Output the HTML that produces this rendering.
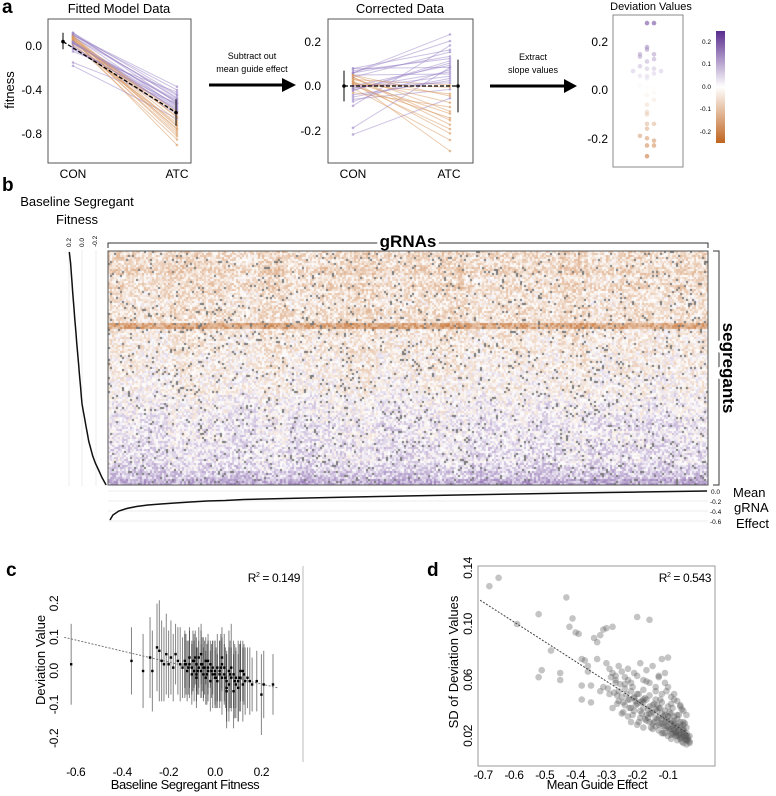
<!DOCTYPE html>
<html><head><meta charset="utf-8">
<style>
body{margin:0;background:#fff;width:776px;height:796px;overflow:hidden;position:relative;font-family:"Liberation Sans",sans-serif}
svg{position:absolute;left:0;top:0}
#hm{position:absolute;left:108px;top:251px}
.n{font-family:"Liberation Sans Narrow","Liberation Sans",sans-serif;letter-spacing:-0.4px}
</style></head><body>
<svg id="s" width="776" height="796">
 <g font-size="19" font-weight="bold">
  <text x="2" y="13">a</text>
  <text x="2" y="191">b</text>
  <text x="6" y="576" class="n">c</text>
  <text x="427" y="576" class="n">d</text>
 </g>
 <text x="119" y="13" font-size="13" text-anchor="middle">Fitted Model Data</text>
 <rect x="48" y="19" width="143" height="144" fill="none" stroke="#555"/>
 <text x="14" y="90" font-size="13" text-anchor="middle" transform="rotate(-90 14 90)">fitness</text>
 <g font-size="12" text-anchor="end">
  <text x="42" y="50">0.0</text><text x="42" y="94">-0.4</text><text x="42" y="138">-0.8</text>
 </g>
 <g font-size="12" text-anchor="middle">
  <text x="73" y="178">CON</text><text x="177" y="178">ATC</text></g>
 <g id="a1"></g>
 <text x="252" y="59" font-size="9" text-anchor="middle">Subtract out</text>
 <text x="252" y="72" font-size="9" text-anchor="middle">mean guide effect</text>
 <line x1="209" y1="85" x2="284" y2="85" stroke="#000" stroke-width="3"/>
 <polygon points="282,78 296,85 282,92" fill="#000"/>
 <text x="400" y="13" font-size="13" text-anchor="middle">Corrected Data</text>
 <rect x="328" y="19" width="145" height="144" fill="none" stroke="#555"/>
 <g font-size="12" text-anchor="end">
  <text x="321" y="46">0.2</text><text x="321" y="90">0.0</text><text x="321" y="135">-0.2</text></g>
 <g font-size="12" text-anchor="middle">
  <text x="353" y="178">CON</text><text x="449" y="178">ATC</text></g>
 <g id="a2"></g>
 <text x="533" y="60" font-size="9" text-anchor="middle">Extract</text>
 <text x="533" y="73" font-size="9" text-anchor="middle">slope values</text>
 <line x1="490" y1="86" x2="566" y2="86" stroke="#000" stroke-width="3"/>
 <polygon points="564,79 577,86 564,93" fill="#000"/>
 <text x="651" y="10" font-size="11" text-anchor="middle">Deviation Values</text>
 <rect x="613" y="15" width="70" height="152" fill="none" stroke="#888"/>
 <g font-size="12" text-anchor="end">
  <text x="608" y="46">0.2</text><text x="608" y="94">0.0</text><text x="608" y="143">-0.2</text></g>
 <g id="a3"></g>
 <defs><linearGradient id="cb" x1="0" y1="0" x2="0" y2="1">
  <stop offset="0" stop-color="#5a2c8e"/><stop offset="0.5" stop-color="#fff"/><stop offset="1" stop-color="#c0641f"/></linearGradient></defs>
 <rect x="716" y="31" width="9" height="112" fill="url(#cb)"/>
 <g font-size="6.5" text-anchor="end">
  <text x="711" y="44">0.2</text><text x="711" y="66">0.1</text><text x="711" y="89">0.0</text><text x="711" y="111">-0.1</text><text x="711" y="134">-0.2</text></g>
 <text x="77" y="206" font-size="13" text-anchor="middle">Baseline Segregant</text>
 <text x="77" y="224" font-size="13" text-anchor="middle">Fitness</text>
 <g font-size="6.5">
  <text transform="translate(71,247) rotate(-90)">0.2</text>
  <text transform="translate(84,247) rotate(-90)">0.0</text>
  <text transform="translate(97,247) rotate(-90)">-0.2</text></g>
 <g stroke="#eee">
  <line x1="69" y1="250" x2="69" y2="486"/><line x1="82" y1="250" x2="82" y2="486"/><line x1="96" y1="250" x2="96" y2="486"/></g>
 <path id="bcurve" fill="none" stroke="#111" stroke-width="1.5"/>
 <path d="M108,248 V243 H708 V248" fill="none" stroke="#333"/>
 <text x="408" y="247" font-size="17" font-weight="bold" text-anchor="middle" style="paint-order:stroke" stroke="#fff" stroke-width="6">gRNAs</text>
 <path d="M713,251 H719 V485 H713" fill="none" stroke="#333"/>
 <text font-size="17" font-weight="bold" text-anchor="middle" transform="translate(723,368) rotate(90)" style="paint-order:stroke" stroke="#fff" stroke-width="6">segregants</text>
 <g stroke="#eee">
  <line x1="108" y1="491" x2="708" y2="491"/><line x1="108" y1="501" x2="708" y2="501"/><line x1="108" y1="511" x2="708" y2="511"/><line x1="108" y1="521" x2="708" y2="521"/></g>
 <path id="gcurve" fill="none" stroke="#111" stroke-width="1.5"/>
 <g font-size="6.5">
  <text x="711" y="494">0.0</text><text x="710" y="504">-0.2</text><text x="710" y="514">-0.4</text><text x="710" y="524">-0.6</text></g>
 <g font-size="13">
  <text x="733" y="497">Mean</text><text x="734" y="512">gRNA</text><text x="736" y="528">Effect</text></g>
 <g id="pc"></g>
 <line x1="303" y1="566" x2="303" y2="762" stroke="#bbb"/>
 <text x="300" y="582" font-size="12" text-anchor="end" class="n">R<tspan font-size="7" dy="-5">2</tspan><tspan dy="5"> = 0.149</tspan></text>
 <g font-size="12" class="n" text-anchor="middle" id="cyt"></g>
 <g font-size="12" class="n" text-anchor="middle" id="cxt"></g>
 <text font-size="13" text-anchor="middle" transform="translate(45,660) rotate(-90)">Deviation Value</text>
 <text x="185" y="789" font-size="13" text-anchor="middle" class="n">Baseline Segregant Fitness</text>
 <rect x="478" y="566" width="237" height="200" fill="none" stroke="#999"/>
 <g id="pd"></g>
 <text x="711" y="582" font-size="12" text-anchor="end" class="n">R<tspan font-size="7" dy="-5">2</tspan><tspan dy="5"> = 0.543</tspan></text>
 <g font-size="12" class="n" text-anchor="middle" id="dyt"></g>
 <g font-size="12" class="n" text-anchor="middle" id="dxt"></g>
 <text font-size="13" text-anchor="middle" transform="translate(458,662) rotate(-90)">SD of Deviation Values</text>
 <text x="597" y="789" font-size="13" text-anchor="middle" class="n">Mean Guide Effect</text>
</svg>
<canvas id="hm" width="600" height="234"></canvas>
<svg width="776" height="796" style="pointer-events:none">
 <rect x="108" y="251" width="600" height="234" fill="none" stroke="#555"/>
</svg>
<script>
// ---- panel a data ----
const conVals=[0.10,0.08,0.12,0.05,0.03,0.07,0.09,0.02,-0.02,0.04,0.06,0.11,0.00,-0.05,-0.15,-0.18,0.01,0.08,0.05,0.10,0.03,-0.03,0.06,0.09,0.12,0.04,0.07,0.02,0.05,0.08,-0.01,0.03,0.10,0.06,0.04,0.09];
const atcVals=[-0.37,-0.45,-0.52,-0.80,-0.85,-0.60,-0.55,-0.50,-0.62,-0.75,-0.90,-0.48,-0.58,-0.42,-0.52,-0.66,-0.70,-0.78,-0.64,-0.40,-0.56,-0.53,-0.82,-0.72,-0.44,-0.59,-0.68,-0.49,-0.61,-0.76,-0.57,-0.54,-0.47,-0.73,-0.51,-0.65];
// ---- panel b data ----
const baselineFitness=[0.19,0.17,0.16,0.15,0.14,0.13,0.12,0.11,0.10,0.09,0.08,0.07,0.06,0.05,0.04,0.03,0.02,0.01,0.0,-0.02,-0.04,-0.06,-0.08,-0.10,-0.13,-0.16,-0.20,-0.25,-0.30,-0.36];
const meanGrnaEffect=[-0.58,-0.48,-0.40,-0.35,-0.31,-0.28,-0.26,-0.24,-0.22,-0.20,-0.19,-0.17,-0.16,-0.15,-0.14,-0.13,-0.12,-0.11,-0.10,-0.09,-0.08,-0.07,-0.06,-0.05,-0.04,-0.03,-0.02,-0.01,0.0];
const rowBias=[-0.07,-0.06,-0.08,-0.05,-0.07,-0.05,-0.04,-0.06,-0.05,-0.17,-0.04,-0.03,-0.04,-0.02,-0.03,-0.02,-0.01,-0.02,0.0,0.01,0.01,0.02,0.03,0.02,0.03,0.04,0.03,0.05,0.07,0.11];
const colBias=[0.0,0.01,-0.01,0.0,0.01,-0.01,0.01,0.0,-0.01,0.01,0.0,-0.01,0.01,0.0,0.01,-0.01,0.01,0.0,0.01,0.0];
// ---- panel c data ----
const cX=[-0.62,-0.36,-0.31,-0.28,-0.27,-0.25,-0.24,-0.23,-0.22,-0.21,-0.20,-0.19,-0.18,-0.17,-0.16,-0.15,-0.14,-0.13,-0.12,-0.11,-0.10,-0.10,-0.09,-0.09,-0.08,-0.08,-0.07,-0.07,-0.06,-0.06,-0.05,-0.05,-0.04,-0.04,-0.03,-0.03,-0.02,-0.02,-0.01,-0.01,0.0,0.0,0.01,0.01,0.02,0.02,0.03,0.03,0.04,0.04,0.05,0.05,0.06,0.06,0.07,0.07,0.08,0.08,0.09,0.10,0.10,0.11,0.12,0.12,0.13,0.14,0.15,0.16,0.18,0.20,0.21,0.25,-0.13,-0.11,-0.08,-0.06,-0.03,0.0,0.03,0.05,0.09,0.11,-0.115,-0.095,-0.075,-0.055,-0.035,-0.015,0.005,0.025,0.045,0.065,0.085,0.105,0.125,-0.125,-0.085,-0.045];
const cY=[0.02,0.03,0.00,0.04,0.00,0.07,0.06,0.03,0.02,0.05,0.02,0.04,0.01,0.05,0.03,0.02,0.01,0.03,0.0,0.02,0.01,-0.01,0.03,0.0,0.02,-0.02,0.01,0.04,0.0,0.02,-0.01,0.01,0.03,-0.02,0.0,0.01,0.02,-0.03,0.01,-0.01,0.0,-0.02,0.01,-0.03,0.0,-0.01,0.02,-0.02,-0.01,0.01,-0.03,-0.05,0.0,-0.04,-0.02,0.01,-0.01,-0.06,-0.02,-0.05,-0.03,-0.02,0.0,-0.04,-0.03,-0.02,-0.03,-0.04,-0.03,-0.07,-0.04,-0.04,0.02,0.04,-0.01,0.05,0.03,-0.01,0.04,-0.06,-0.04,0.0,0.01,0.03,0.0,0.02,-0.01,0.0,-0.02,0.01,-0.02,-0.01,-0.03,-0.02,-0.01,0.02,0.04,0.01];
const cErr=[0.12,0.10,0.11,0.12,0.12,0.13,0.15,0.12,0.11,0.12,0.10,0.11,0.10,0.09,0.10,0.11,0.09,0.08,0.09,0.10,0.08,0.09,0.08,0.09,0.08,0.09,0.08,0.09,0.08,0.10,0.08,0.09,0.07,0.08,0.09,0.08,0.07,0.09,0.08,0.10,0.09,0.08,0.10,0.08,0.09,0.10,0.08,0.11,0.09,0.10,0.09,0.10,0.12,0.11,0.09,0.13,0.10,0.11,0.09,0.10,0.12,0.10,0.09,0.11,0.10,0.09,0.10,0.08,0.09,0.12,0.10,0.09,0.10,0.09,0.08,0.09,0.08,0.10,0.09,0.11,0.10,0.09,0.08,0.09,0.07,0.08,0.09,0.08,0.09,0.10,0.09,0.10,0.11,0.10,0.09,0.09,0.08,0.08];
const cTicksX=[-0.6,-0.4,-0.2,0.0,0.2], cTicksY=[0.2,0.1,0.0,-0.1,-0.2];
const cLine=[[-0.65,0.10],[0.27,-0.05]];
// ---- panel d data ----
const dX=[-0.68,-0.65,-0.59,-0.52,-0.51,-0.52,-0.48,-0.45,-0.45,-0.43,-0.42,-0.41,-0.40,-0.39,-0.38,-0.37,-0.36,-0.38,-0.38,-0.36,-0.34,-0.33,-0.32,-0.31,-0.30,-0.28,-0.20,-0.16,-0.12,-0.10,-0.35,-0.33,-0.30,-0.29,-0.28,-0.27,-0.26,-0.25,-0.24,-0.23,-0.22,-0.21,-0.20,-0.19,-0.18,-0.17,-0.16,-0.15,-0.14,-0.13,-0.12,-0.11,-0.10,-0.09,-0.08,-0.07,-0.06,-0.05,-0.04,-0.31,-0.29,-0.27,-0.26,-0.25,-0.24,-0.23,-0.22,-0.21,-0.20,-0.19,-0.18,-0.17,-0.16,-0.15,-0.14,-0.13,-0.12,-0.11,-0.10,-0.09,-0.08,-0.07,-0.06,-0.05,-0.04,-0.28,-0.26,-0.24,-0.22,-0.21,-0.20,-0.19,-0.18,-0.17,-0.16,-0.15,-0.14,-0.13,-0.12,-0.11,-0.10,-0.09,-0.08,-0.07,-0.06,-0.05,-0.04,-0.25,-0.23,-0.21,-0.19,-0.18,-0.17,-0.16,-0.15,-0.14,-0.13,-0.12,-0.11,-0.10,-0.09,-0.08,-0.07,-0.06,-0.05,-0.04,-0.22,-0.20,-0.18,-0.16,-0.14,-0.13,-0.12,-0.11,-0.10,-0.09,-0.08,-0.07,-0.06,-0.05,-0.04,-0.03,-0.15,-0.12,-0.10,-0.09,-0.08,-0.07,-0.06,-0.05,-0.04,-0.03,-0.27,-0.24,-0.18,-0.14,-0.11,-0.08,-0.06,-0.05,-0.04,-0.03,-0.09,-0.07,-0.05,-0.35,-0.32,-0.23,-0.17,-0.13,
 -0.135,-0.125,-0.115,-0.105,-0.095,-0.085,-0.075,-0.065,-0.055,-0.045,-0.035,-0.135,-0.115,-0.105,-0.095,-0.085,-0.075,-0.065,-0.055,-0.045,-0.035,-0.125,-0.11,-0.09,-0.08,-0.07,-0.06,-0.05,-0.04,-0.155,-0.145,-0.175,-0.165,-0.185,-0.195,-0.205,-0.215,-0.225,-0.235,-0.245,-0.255,-0.265,-0.275,-0.285,-0.295,-0.165,-0.185,-0.205,-0.225,-0.245,-0.265,-0.145,-0.125,-0.105,-0.085,-0.065,-0.045,-0.1,-0.08,-0.06,-0.055,-0.075,-0.095,-0.115,-0.135,-0.155,-0.175,-0.195,-0.215];
const dY=[0.127,0.133,0.100,0.107,0.067,0.062,0.081,0.065,0.060,0.119,0.098,0.104,0.094,0.093,0.075,0.074,0.066,0.056,0.046,0.070,0.090,0.087,0.092,0.096,0.097,0.098,0.105,0.103,0.075,0.076,0.056,0.075,0.072,0.068,0.065,0.060,0.070,0.066,0.062,0.068,0.058,0.065,0.063,0.072,0.060,0.067,0.058,0.070,0.055,0.062,0.050,0.065,0.055,0.048,0.050,0.045,0.042,0.038,0.035,0.055,0.050,0.058,0.052,0.048,0.054,0.046,0.052,0.047,0.050,0.044,0.053,0.046,0.049,0.042,0.046,0.040,0.044,0.038,0.041,0.036,0.034,0.032,0.030,0.028,0.026,0.040,0.045,0.042,0.040,0.048,0.043,0.038,0.044,0.035,0.041,0.037,0.039,0.033,0.036,0.030,0.034,0.029,0.031,0.027,0.026,0.024,0.022,0.036,0.034,0.038,0.033,0.040,0.031,0.036,0.029,0.033,0.028,0.032,0.026,0.030,0.025,0.028,0.023,0.022,0.020,0.019,0.030,0.028,0.026,0.030,0.027,0.024,0.029,0.022,0.026,0.021,0.024,0.020,0.018,0.022,0.017,0.016,0.025,0.022,0.020,0.018,0.021,0.017,0.019,0.015,0.014,0.015,0.063,0.057,0.046,0.052,0.058,0.046,0.041,0.030,0.020,0.020,0.043,0.035,0.025,0.044,0.052,0.060,0.059,0.063,
 0.032,0.029,0.027,0.031,0.024,0.027,0.023,0.021,0.019,0.018,0.017,0.038,0.034,0.027,0.025,0.022,0.020,0.024,0.016,0.020,0.019,0.040,0.035,0.031,0.029,0.026,0.021,0.023,0.017,0.036,0.043,0.047,0.039,0.045,0.050,0.042,0.055,0.046,0.050,0.044,0.057,0.049,0.051,0.062,0.054,0.033,0.036,0.045,0.040,0.037,0.043,0.030,0.046,0.052,0.040,0.035,0.029,0.034,0.025,0.028,0.039,0.022,0.037,0.022,0.042,0.026,0.032,0.030,0.035];
const dTicksX=[-0.7,-0.6,-0.5,-0.4,-0.3,-0.2,-0.1], dTicksY=[0.14,0.10,0.06,0.02];
const dLine=[[-0.71,0.117],[-0.03,0.021]];

const NS='http://www.w3.org/2000/svg';
function mk(parent,tag,attrs){const e=document.createElementNS(NS,tag);for(const k in attrs)e.setAttribute(k,attrs[k]);parent.appendChild(e);return e;}
function lerp(a,b,t){return Math.round(a+(b-a)*t);}
function divColor(v,max){let t=Math.max(-1,Math.min(1,v/max));
 if(t>=0)return `rgb(${lerp(255,90,t)},${lerp(255,44,t)},${lerp(255,142,t)})`;
 t=-t;return `rgb(${lerp(255,192,t)},${lerp(255,100,t)},${lerp(255,31,t)})`;}

const meanCon=conVals.reduce((a,b)=>a+b)/conVals.length, meanAtc=atcVals.reduce((a,b)=>a+b)/atcVals.length;
const y1=v=>46-v*110, y2=v=>86-v*220, y3=v=>89-v*240;
const a1=document.getElementById('a1'),a2=document.getElementById('a2'),a3=document.getElementById('a3');
const devs=[];
conVals.forEach((c,i)=>{
 const a=atcVals[i]; const cc=c-meanCon, ca=a-meanAtc; const dev=ca-cc; devs.push(dev);
 const col=dev>=0?'#9b86c7':'#d99a62';
 let l=mk(a1,'line',{x1:73,y1:y1(c),x2:177,y2:y1(a),stroke:col,'stroke-opacity':0.5,'stroke-width':1});
 
 mk(a1,'circle',{cx:73,cy:y1(c),r:1.3,fill:col,'fill-opacity':0.6});mk(a1,'circle',{cx:177,cy:y1(a),r:1.3,fill:col,'fill-opacity':0.6});
 l=mk(a2,'line',{x1:353,y1:y2(cc),x2:450,y2:y2(ca),stroke:col,'stroke-opacity':0.5,'stroke-width':1});
 
 mk(a2,'circle',{cx:353,cy:y2(cc),r:1.3,fill:col,'fill-opacity':0.6});mk(a2,'circle',{cx:450,cy:y2(ca),r:1.3,fill:col,'fill-opacity':0.6});
});
mk(a1,'line',{x1:63,y1:y1(meanCon),x2:176,y2:y1(meanAtc),stroke:'#000','stroke-dasharray':'4,2','stroke-width':1.3});
mk(a1,'line',{x1:63,y1:y1(meanCon+0.08),x2:63,y2:y1(meanCon-0.07),stroke:'#000'});
mk(a1,'line',{x1:176,y1:y1(meanAtc+0.12),x2:176,y2:y1(meanAtc-0.12),stroke:'#000'});
mk(a1,'circle',{cx:63,cy:y1(meanCon),r:1.8});mk(a1,'circle',{cx:176,cy:y1(meanAtc),r:1.8});
mk(a2,'line',{x1:344,y1:y2(0),x2:458,y2:y2(0),stroke:'#000','stroke-dasharray':'4,2','stroke-width':1.3});
mk(a2,'line',{x1:344,y1:y2(0.07),x2:344,y2:y2(-0.07),stroke:'#000'});
mk(a2,'line',{x1:458,y1:y2(0.12),x2:458,y2:y2(-0.12),stroke:'#000'});
mk(a2,'circle',{cx:344,cy:y2(0),r:1.8});mk(a2,'circle',{cx:458,cy:y2(0),r:1.8});
const bins={};
devs.forEach(d=>{const dc=Math.max(-0.28,Math.min(0.28,d));const b=Math.round(dc/0.03);bins[b]=(bins[b]||0)+1;const k=bins[b]-1;
 const off=k===0?0:(k%2?1:-1)*Math.ceil(k/2)*7;
 const c=mk(a3,'circle',{cx:647+off,cy:y3(dc),r:2.3,fill:divColor(dc,0.3),'fill-opacity':0.55});
 });

const rowsN=baselineFitness.length;
document.getElementById('bcurve').setAttribute('d',baselineFitness.map((v,i)=>(i?'L':'M')+(82-v*67).toFixed(1)+','+(252+Math.pow(i/(rowsN-1),0.9)*233).toFixed(1)).join(''));
const gN=meanGrnaEffect.length;
document.getElementById('gcurve').setAttribute('d',meanGrnaEffect.map((v,i)=>(i?'L':'M')+(110+Math.pow(i/(gN-1),1.6)*597).toFixed(1)+','+(491-v*50).toFixed(1)).join(''));
const ctx=document.getElementById('hm').getContext('2d');
function h(i,j){let x=(i*374761393+j*668265263)|0;x=(x^(x>>>13))*1274126177|0;return ((x^(x>>>16))>>>0)/4294967296;}
const R=117,C=300;
for(let r=0;r<R;r++){const rb=rowBias[Math.min(rowBias.length-1,Math.floor(r/R*rowBias.length))];
 for(let c=0;c<C;c++){const cb=colBias[Math.floor(c/C*colBias.length)];
  const n=h(r,c); let col;
  if(h(r+500,c)<0.05) col='#777';
  else col=divColor(rb+cb+(n-0.5)*0.14,0.3);
  ctx.fillStyle=col;ctx.fillRect(c*2,r*2,2,2);}}

const cx=v=>215+v*232, cy=v=>671-v*337;
const pc=document.getElementById('pc');
cX.forEach((x,i)=>{const l=mk(pc,'line',{x1:cx(x),x2:cx(x),y1:cy(cY[i]+cErr[i]),y2:cy(cY[i]-cErr[i]),stroke:'#333','stroke-opacity':0.6,'stroke-width':1});
 });
mk(pc,'line',{x1:cx(cLine[0][0]),y1:cy(cLine[0][1]),x2:cx(cLine[1][0]),y2:cy(cLine[1][1]),stroke:'#777','stroke-dasharray':'2,1.5'});
cX.forEach((x,i)=>{const p=mk(pc,'rect',{x:cx(x)-1.2,y:cy(cY[i])-1.2,width:2.4,height:2.4,fill:'#000'});
 });
const cyt=document.getElementById('cyt'),cxt=document.getElementById('cxt');
cTicksY.forEach(v=>{const t=mk(cyt,'text',{transform:`translate(58,${cy(v)}) rotate(-90)`});t.textContent=v.toFixed(1);});
cTicksX.forEach(v=>{const t=mk(cxt,'text',{x:cx(v),y:776});t.textContent=v.toFixed(1);});

const dx=v=>668+(v+0.1)*308, dy=v=>736-(v-0.02)*1400;
const pd=document.getElementById('pd');
dX.forEach((x,i)=>{const p=mk(pd,'circle',{cx:dx(x),cy:dy(dY[i]),r:3.3,fill:'#555','fill-opacity':0.35});
 });
mk(pd,'line',{x1:dx(dLine[0][0]),y1:dy(dLine[0][1]),x2:dx(dLine[1][0]),y2:dy(dLine[1][1]),stroke:'#444','stroke-dasharray':'2,1.5'});
const dyt=document.getElementById('dyt'),dxt=document.getElementById('dxt');
dTicksY.forEach(v=>{const t=mk(dyt,'text',{transform:`translate(472,${dy(v)}) rotate(-90)`});t.textContent=v.toFixed(2);});
dTicksX.forEach(v=>{const t=mk(dxt,'text',{x:dx(v),y:779});t.textContent=v.toFixed(1);});
</script>
</body></html>
